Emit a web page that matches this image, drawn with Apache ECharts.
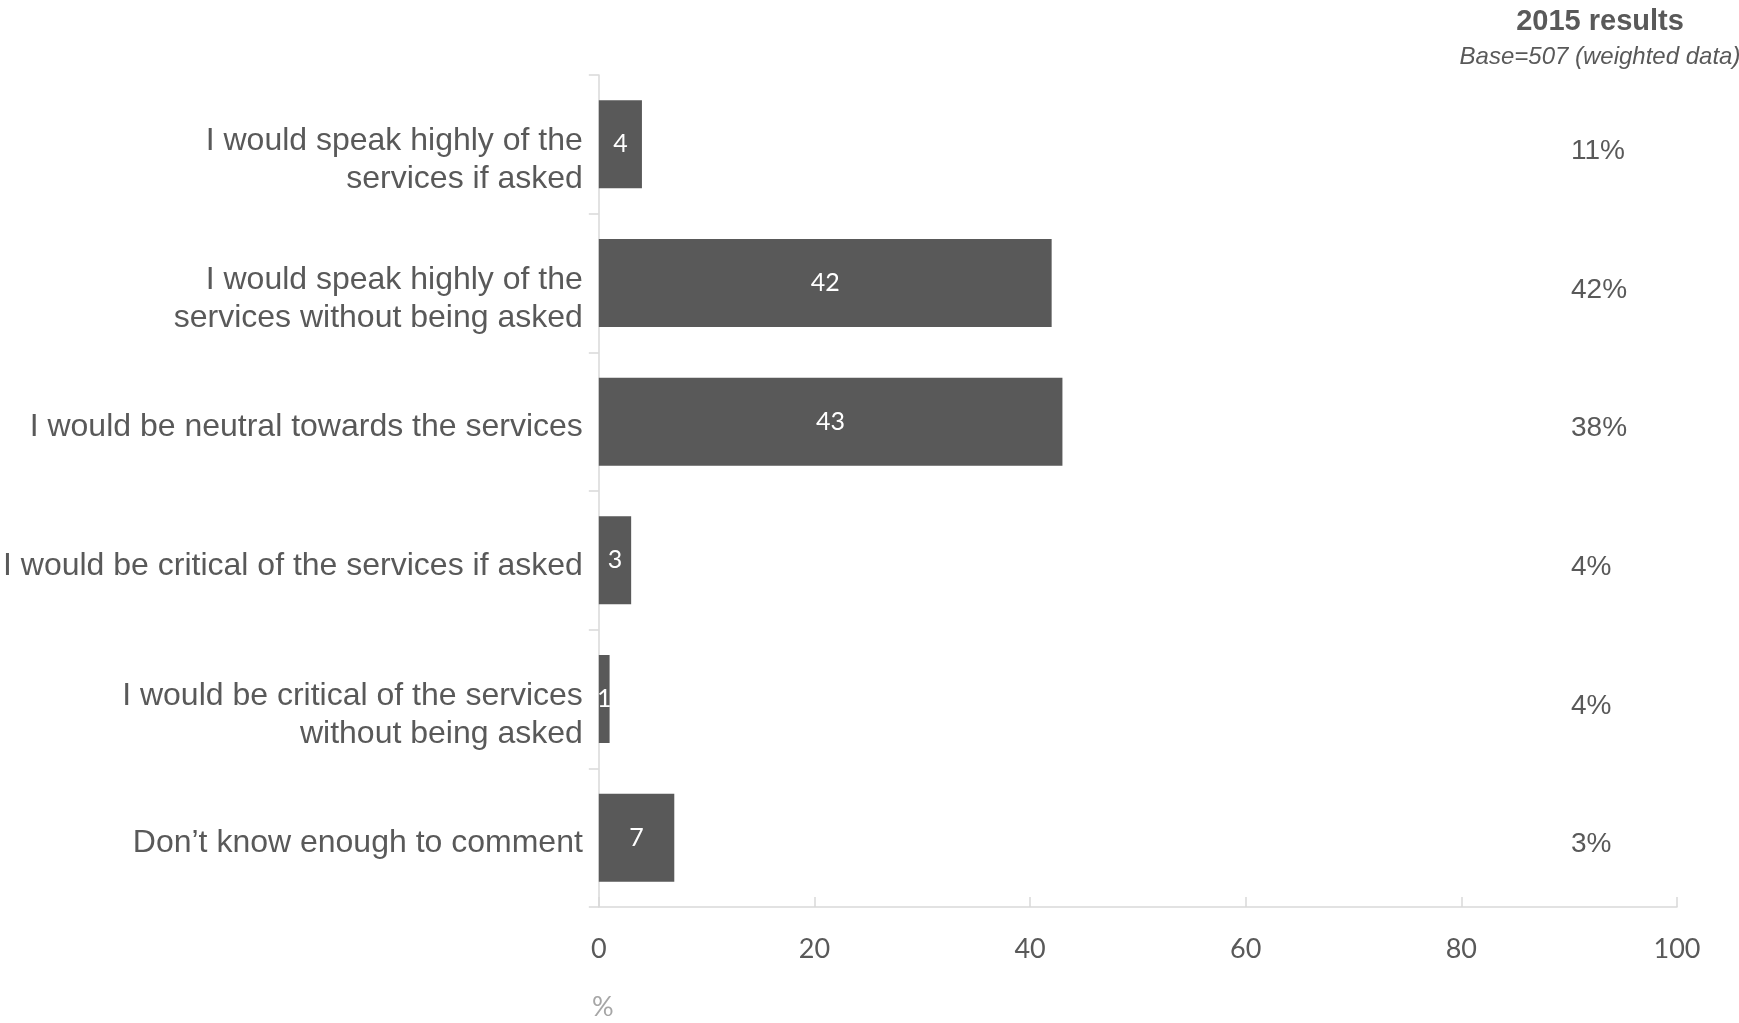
<!DOCTYPE html>
<html>
<head>
<meta charset="utf-8">
<script src="https://cdn.jsdelivr.net/npm/echarts@6/dist/echarts.min.js"></script>
<style>
  html, body { margin: 0; padding: 0; background: #fff; }
  #chart { width: 1739px; height: 1023px; }
</style>
</head>
<body>
<div id="chart"></div>
<script>
const categories = [
  'I would speak highly of the\nservices if asked',
  'I would speak highly of the\nservices without being asked',
  'I would be neutral towards the services',
  'I would be critical of the services if asked',
  'I would be critical of the services\nwithout being asked',
  'Don\u2019t know enough to comment'
];
const values2016 = [4, 42, 43, 3, 1, 7];
const values2015 = [11, 42, 38, 4, 4, 3];
const xMin = 0, xMax = 100, xInterval = 20;
const headerTitle = '2015 results';
const headerSub = 'Base=507 (weighted data)';
const xUnit = '%';

const textColor = '#595959';
const axisColor = '#d9d9d9';

const chart = echarts.init(document.getElementById('chart'));
chart.setOption({
  backgroundColor: '#ffffff',
  animation: false,
  grid: { left: 595, right: 62, top: 75, bottom: 116 },
  xAxis: {
    type: 'value',
    min: xMin, max: xMax, interval: xInterval,
    axisLine: { show: true, lineStyle: { color: axisColor, width: 1.5 } },
    axisTick: { show: true, inside: true, length: 10, lineStyle: { color: axisColor, width: 1.5 } },
    splitLine: { show: false },
    axisLabel: { color: textColor, fontFamily: 'Lato', fontSize: 27, margin: 29 }
  },
  yAxis: [{
    type: 'category',
    data: categories,
    inverse: true,
    axisLine: { show: true, lineStyle: { color: axisColor, width: 1.5 } },
    axisTick: { show: true, length: 10, lineStyle: { color: axisColor, width: 1.5 } },
    axisLabel: {
      margin: 16,
      align: 'right',
      formatter: function (value) {
        const lines = value.split('\n');
        if (lines.length > 1) {
          return '{pad2| }\n' + lines.map(l => '{t|' + l + '}').join('\n');
        }
        return '{pad1| }\n{t|' + value + '}';
      },
      rich: {
        t: { fontFamily: 'Liberation Sans', fontSize: 32, lineHeight: 38, color: textColor, align: 'right' },
        pad1: { fontSize: 1, lineHeight: 12 },
        pad2: { fontSize: 1, lineHeight: 32 }
      }
    }
  }, {
    type: 'category',
    data: categories,
    inverse: true,
    position: 'right',
    axisLine: { show: false },
    axisTick: { show: false },
    axisLabel: {
      margin: -106,
      align: 'left',
      formatter: function (value, index) {
        return '{pad| }\n{v|' + values2015[index] + '%}';
      },
      rich: {
        v: { fontFamily: 'Liberation Sans', fontSize: 28, lineHeight: 32, color: textColor, align: 'left' },
        pad: { fontSize: 1, lineHeight: 14 }
      }
    }
  }],
  series: [{
    type: 'bar',
    data: values2016,
    yAxisIndex: 0,
    barWidth: 88,
    itemStyle: { color: '#595959' },
    label: {
      show: true,
      position: 'inside',
      color: '#ffffff',
      fontFamily: 'Lato',
      fontSize: 25
    }
  }],
  graphic: [
    {
      type: 'text',
      style: {
        x: 1600, y: 22, text: headerTitle,
        fill: textColor, font: 'bold 29px "Liberation Sans"',
        textAlign: 'center', textVerticalAlign: 'middle'
      }
    },
    {
      type: 'text',
      style: {
        x: 1600, y: 57, text: headerSub,
        fill: textColor, font: 'italic 24px "Liberation Sans"',
        textAlign: 'center', textVerticalAlign: 'middle'
      }
    },
    {
      type: 'text',
      style: {
        x: 592, y: 1007, text: xUnit,
        fill: '#a6a6a6', font: '27px Lato',
        textAlign: 'left', textVerticalAlign: 'middle'
      }
    }
  ]
});
</script>
</body>
</html>
